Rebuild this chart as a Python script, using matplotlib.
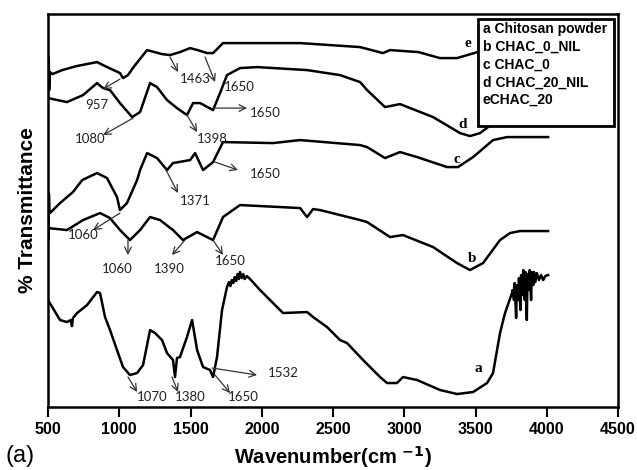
import numpy as np
import matplotlib
matplotlib.use('Agg')
import matplotlib.pyplot as plt
from matplotlib.patches import Rectangle

# ==============================================
#    FTIR spectra (offset, arbitrary units)
# ==============================================
wn_a = [500, 584, 633, 660, 668, 675, 704, 774, 844, 865, 900, 935, 984, 1026, 1075, 1125,
        1167, 1216, 1251, 1300, 1335, 1377, 1391, 1405, 1426, 1475, 1511, 1546, 1588, 1637,
        1658, 1686, 1721, 1756, 1770, 1780, 1790, 1800, 1810, 1820, 1830, 1840, 1847, 1860,
        1870, 1880, 1895, 1918, 1988, 2079, 2149, 2318, 2360, 2458, 2549,
        2598, 2711, 2830, 2879, 2949, 2991, 3090, 3251, 3370, 3483, 3581, 3623, 3672, 3707,
        3756, 3760, 3770, 3775, 3785, 3790, 3800, 3805, 3815, 3820, 3830, 3835, 3845, 3850,
        3860, 3865, 3875, 3880, 3890, 3895, 3905, 3910, 3920, 3930, 3945, 3960, 3975, 3990, 4009]
t_a = [107, 87, 85, 87, 81, 89, 94, 102, 115, 114, 90, 77, 57, 40, 32, 34,
       42, 77, 74, 67, 54, 47, 30, 49, 50, 70, 87, 57, 40, 37,
       30, 50, 97, 120, 125, 121, 127, 124, 130, 126, 133, 128, 135, 129,
       133, 128, 131, 128, 117, 104, 94, 95, 90, 80, 67,
       64, 47, 30, 24, 24, 30, 27, 17, 13, 15, 24, 34, 74, 94,
       114, 117, 107, 124, 89, 122, 107, 129, 97, 132, 112, 137, 107, 135,
       87, 133, 117, 137, 107, 135, 122, 135, 125, 134, 127, 132, 127, 131, 132]

wn_b = [500, 633, 746, 865, 935, 1005, 1075, 1146, 1216, 1286, 1377, 1447, 1546, 1658, 1728,
        1847, 2269, 2318, 2360, 2409, 2690, 2739, 2900, 2991, 3202, 3370, 3461, 3553, 3672,
        3742, 3812, 4009]
t_b = [179, 177, 187, 194, 189, 177, 167, 177, 190, 187, 177, 167, 175, 167, 190,
       202, 199, 190, 198, 197, 187, 185, 170, 172, 160, 144, 137, 144, 167,
       174, 176, 176]

wn_c = [500, 503, 506, 510, 514, 584, 675, 740, 844, 914, 984, 1005, 1054, 1125, 1146, 1195,
        1265, 1335, 1377, 1497, 1532, 1588, 1658, 1728, 2079, 2269, 2690, 2739, 2865, 2970,
        3090, 3300, 3377, 3483, 3623, 3721, 4009]
t_c = [212, 167, 214, 197, 194, 204, 215, 227, 234, 229, 210, 197, 204, 227, 237, 254,
       249, 237, 244, 247, 254, 237, 245, 265, 264, 267, 262, 260, 249, 255,
       250, 240, 240, 250, 267, 270, 270]

wn_d = [500, 633, 746, 844, 886, 935, 1005, 1090, 1146, 1216, 1265, 1335, 1405, 1475, 1518,
        1567, 1658, 1707, 1756, 1847, 1967, 2318, 2549, 2690, 2739, 2865, 2970, 3202, 3391,
        3461, 3532, 3588, 3700, 4000]
t_d = [309, 305, 312, 324, 319, 317, 304, 290, 295, 324, 320, 307, 299, 292, 304,
       304, 297, 314, 332, 339, 340, 337, 332, 325, 317, 300, 303, 290, 274,
       271, 274, 280, 292, 295]

wn_e = [500, 505, 508, 512, 530, 600, 700, 844, 900, 1005, 1026, 1061, 1100, 1150, 1195, 1300,
        1356, 1426, 1497, 1550, 1616, 1658, 1728, 2000, 2269, 2690, 2850, 2900, 3100, 3250,
        3370, 3490, 3560, 4000]
t_e = [334, 350, 317, 335, 333, 337, 341, 345, 341, 334, 329, 332, 340, 349, 357, 353,
       352, 355, 359, 357, 354, 354, 364, 364, 364, 360, 354, 357, 355, 349,
       349, 354, 357, 359]

curve_ids = ['a', 'b', 'c', 'd', 'e']
legend_lines = ['a Chitosan powder', 'b CHAC_0_NIL', 'c CHAC_0', 'd CHAC_20_NIL', 'eCHAC_20']

# curve letter positions (wavenumber, offset transmittance)
letter_pos = {'a': (3518, 39), 'b': (3476, 149), 'c': (3370, 248),
              'd': (3412, 283), 'e': (3448, 364)}

# band annotations: label, arrow tail, arrow head, label centre
bands = [
    ('1463', (1356, 350), (1412, 335), (1532, 328)),
    ('1650', (1602, 350), (1672, 325), (1840, 320)),
    ('957',  (1005, 328), (886, 318),  (844, 302)),
    ('1080', (1097, 289), (886, 272),  (795, 268)),
    ('1398', (1475, 292), (1546, 275), (1651, 268)),
    ('1650', (1658, 299), (1897, 299), (2023, 294)),
    ('1650', (1672, 245), (1833, 237), (2023, 233)),
    ('1371', (1321, 239), (1412, 214), (1532, 206)),
    ('1060', (1005, 194), (816, 177),  (746, 172)),
    ('1060', (1061, 167), (1061, 152), (984, 138)),
    ('1390', (1461, 167), (1370, 152), (1349, 138)),
    ('1650', (1658, 167), (1728, 152), (1777, 146)),
    ('1532', (1651, 39),  (1967, 32),  (2149, 34)),
    ('1070', (1061, 30),  (1125, 15),  (1230, 10)),
    ('1380', (1370, 30),  (1412, 15),  (1497, 10)),
    ('1650', (1672, 32),  (1777, 14),  (1868, 10)),
]

fig = plt.figure(figsize=(6.37, 4.70), dpi=100)
ax = fig.add_axes([0.0754, 0.134, 0.8948, 0.836])

series = [(wn_a, t_a), (wn_b, t_b), (wn_c, t_c), (wn_d, t_d), (wn_e, t_e)]
for (wn, tr) in series:
    ax.plot(wn, tr, color='black', lw=1.8, solid_joinstyle='round')

for cid in curve_ids:
    x, y = letter_pos[cid]
    ax.text(x, y, cid, fontsize=11, fontweight='bold', family='Liberation Serif',
            ha='center', va='center')

for lab, tail, head, pos in bands:
    ax.annotate('', xy=head, xytext=tail,
                arrowprops=dict(arrowstyle='->', lw=0.9, color='#333333',
                                shrinkA=0, shrinkB=0, mutation_scale=12))
    ax.text(pos[0], pos[1], lab, fontsize=9.5, family='Lato', color='#222222',
            ha='center', va='center')

# legend box (covers the curve ends)
ax.add_patch(Rectangle((0.754, 0.715), 0.239, 0.272, transform=ax.transAxes,
                       facecolor='white', edgecolor='black', lw=2, zorder=5))
for i, line in enumerate(legend_lines):
    ax.text(0.763, 0.962 - i * 0.0452, line, transform=ax.transAxes, fontsize=10,
            fontweight='bold', family='Liberation Sans', va='center', ha='left', zorder=6)

ax.set_xlim(500, 4500)
ax.set_ylim(0, 393)
ax.set_xticks(np.arange(500, 4501, 500))
ax.set_yticks([])
ax.tick_params(axis='x', direction='out', length=7, width=1.5, pad=4)
for lbl in ax.get_xticklabels():
    lbl.set_fontweight('bold')
    lbl.set_fontsize(11.5)
    lbl.set_family('Liberation Sans')
for sp in ax.spines.values():
    sp.set_linewidth(1.8)

ax.set_xlabel(r'Wavenumber(cm $^{\mathbf{-1}}$)', fontsize=14.5, fontweight='bold',
              family='Liberation Sans', labelpad=5)
ax.set_ylabel('% Transmittance', fontsize=15, fontweight='bold',
              family='Liberation Sans', labelpad=8)

fig.text(0.008, 0.006, '(a)', fontsize=17, family='Liberation Sans', va='bottom', ha='left')

fig.savefig('out.png', dpi=100)
